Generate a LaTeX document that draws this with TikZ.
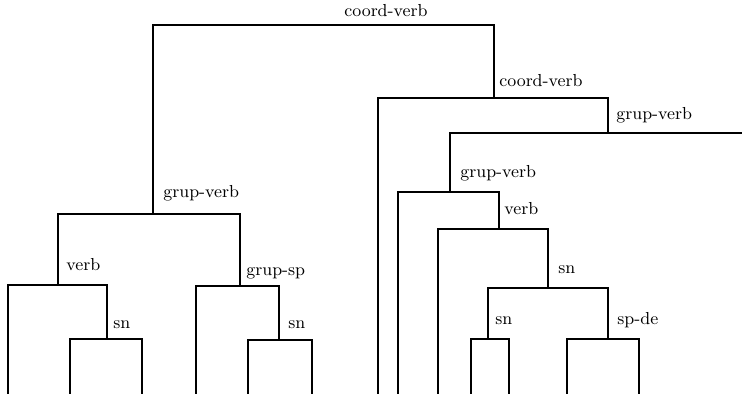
\documentclass[tikz,border=0pt]{standalone}
\usepackage{tikz}
\tikzset{
  brc/.style ={draw=black,line width=1pt,line cap=rect},
  lbl/.style ={font=\fontsize{8.7}{10}\selectfont,inner sep=0pt,anchor=base west},
}

\begin{document}
\begin{tikzpicture}[x=0.5pt, y=-0.5pt]
\useasboundingbox (0,0) rectangle (742,395);

%% ---------------- junctions ----------------
%% each internal coordinate sits where its stem meets its bar
\coordinate (r)    at (339, 25);
\coordinate (gvA)  at (153,214);
\coordinate (vbA)  at ( 58,285);
\coordinate (snA)  at (107,339);
\coordinate (gsp)  at (240,286);
\coordinate (snB)  at (279,340);
\coordinate (cvB)  at (494, 98);
\coordinate (gvB)  at (608,133);
\coordinate (gvC)  at (450,192);
\coordinate (vbB)  at (499,229);
\coordinate (snC)  at (548,288);
\coordinate (snD)  at (488,339);
\coordinate (spde) at (608,339);
\coordinate (cut)  at (742,133);

%% ---------------- leaves ----------------
\foreach \n/\x in {l1/8, l2/70, l3/142, l4/196, l5/248, l6/312, l7/378,
                   l8/398, l9/438, l10/471, l11/509, l12/567, l13/639}
  \coordinate (\n) at (\x,393);

%% ---------------- branches ----------------
\foreach \p/\c in {r/gvA, r/cvB, gvA/vbA, gvA/gsp, vbA/l1, vbA/snA,
                   snA/l2, snA/l3, gsp/l4, gsp/snB, snB/l5, snB/l6,
                   cvB/l7, cvB/gvB, gvB/gvC, gvC/l8, gvC/vbB,
                   vbB/l9, vbB/snC, snC/snD, snC/spde,
                   snD/l10, snD/l11, spde/l12, spde/l13}
  \draw[brc] (\p) -| (\c);
\draw[brc] (gvB) -- (cut);

%% ---------------- labels ----------------
\node[lbl] (tr)    at (344, 17) {coord-verb};
\node[lbl] (tcvB)  at (499, 87) {coord-verb};
\node[lbl] (tgvB)  at (616,120) {grup-verb};
\node[lbl] (tgvC)  at (460,177) {grup-verb};
\node[lbl] (tvbB)  at (504,214) {verb};
\node[lbl] (tsnC)  at (558,273) {sn};
\node[lbl] (tsnD)  at (495,324) {sn};
\node[lbl] (tspde) at (617,324) {sp-de};
\node[lbl] (tgvA)  at (163,197) {grup-verb};
\node[lbl] (tvbA)  at ( 66,270) {verb};
\node[lbl] (tsnA)  at (113,328) {sn};
\node[lbl] (tgsp)  at (246,275) {grup-sp};
\node[lbl] (tsnB)  at (288,328) {sn};

\end{tikzpicture}
\end{document}
